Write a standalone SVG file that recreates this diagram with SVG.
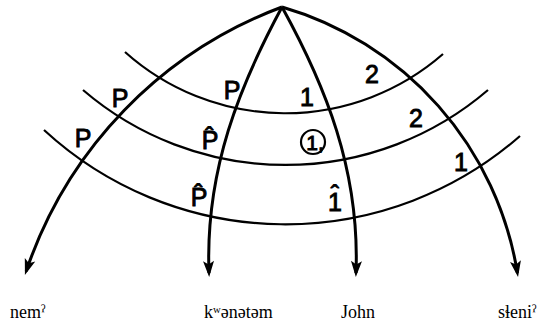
<svg xmlns="http://www.w3.org/2000/svg" width="548" height="325" viewBox="0 0 548 325">
<style>
.arc{fill:none;stroke:#000;stroke-width:2.2}
.ray{fill:none;stroke:#000;stroke-width:3;marker-end:url(#arr)}
.lbl{font-family:'Liberation Sans','DejaVu Sans',sans-serif;font-size:25px;fill:#000;stroke:#000;stroke-width:0.9;text-anchor:middle}
.word{font-family:'Liberation Serif','DejaVu Serif',serif;font-size:18px;fill:#000}
</style>
<defs>
<marker id="arr" viewBox="-17 -7 19 14" refX="-4" refY="0" markerWidth="19" markerHeight="14" markerUnits="userSpaceOnUse" orient="auto">
<path d="M0,0 L-16,-5.5 L-12.5,0 L-16,5.5 Z" fill="#000"/>
</marker>
</defs>
<rect width="548" height="325" fill="#fff"/>
<g id="arcs">
<path class="arc" d="M125,52 A240,240 0 0,0 443,54"/>
<path class="arc" d="M83,90 A311,311 0 0,0 488,90"/>
<path class="arc" d="M44,130 A356,356 0 0,0 520,136"/>
</g>
<g id="connectors">
<path class="ray" d="M282,7 A428,428 0 0,0 26.2,271.2"/>
<path class="ray" d="M282,7 C240,85 205,170 209,273"/>
<path class="ray" d="M282,7 C325,85 360,170 356,273"/>
<path class="ray" d="M282,7 A332,332 0 0,1 517.4,273"/>
</g>
<g id="labels">
<text class="lbl" x="120" y="107">P</text>
<text class="lbl" x="83" y="147">P</text>
<text class="lbl" x="232" y="99">P</text>
<text class="lbl" x="210" y="149">P̂</text>
<text class="lbl" x="199" y="206">P̂</text>
<text class="lbl" x="307" y="106">1</text>
<text class="lbl" x="372" y="83">2</text>
<text class="lbl" x="416" y="127">2</text>
<text class="lbl" x="461" y="171">1</text>
<text class="lbl" x="328" y="211" dx="0 -11.1" dy="0 -8" style="text-anchor:start">1ˆ</text>
<g id="circled">
<circle cx="313" cy="142" r="12" fill="none" stroke="#000" stroke-width="2.2"/>
<text class="lbl" x="315" y="150" style="font-size:21px">1,</text>
</g>
</g>
<g id="node-nem"><text class="word" x="10" y="318">nemˀ</text></g>
<g id="node-kwenetem"><text class="word" x="204" y="318">kʷənətəm</text></g>
<g id="node-john"><text class="word" x="341" y="318">John</text></g>
<g id="node-sleni"><text class="word" x="498" y="318">sɬeniˀ</text></g>
</svg>
